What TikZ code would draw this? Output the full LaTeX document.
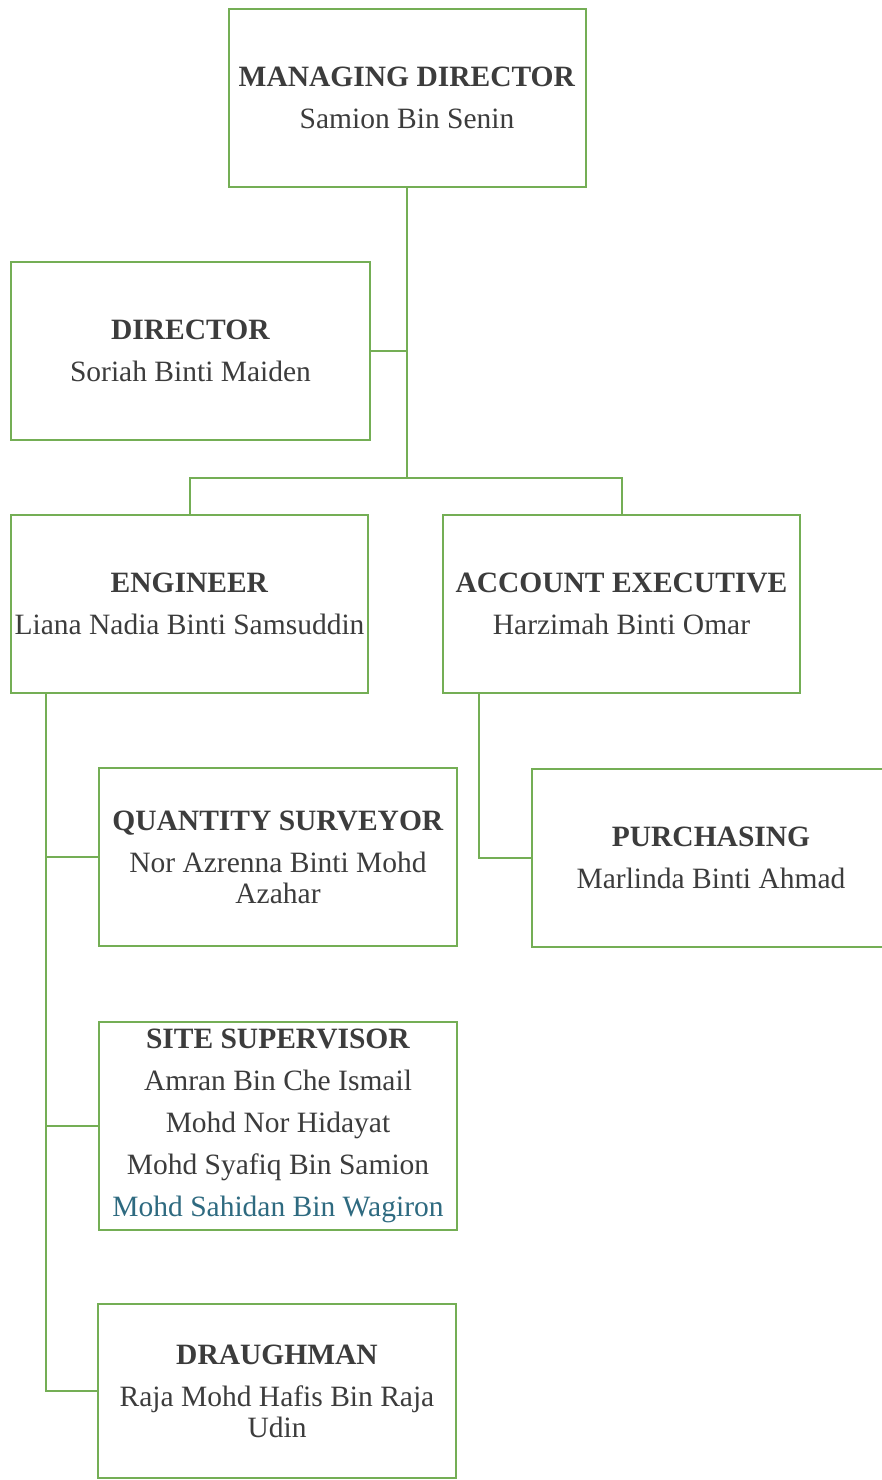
\documentclass[tikz,border=0pt]{standalone}
\usepackage{fontspec}
\setmainfont{LiberationSerif}[Extension=.ttf,UprightFont=*-Regular,BoldFont=*-Bold,ItalicFont=*-Italic,BoldItalicFont=*-BoldItalic]
\usepackage{tikz}

\definecolor{boxgreen}{HTML}{74AE55}
\definecolor{inkgray}{HTML}{3C3C3C}
\definecolor{inkteal}{HTML}{2E6A80}

\begin{document}
\begin{tikzpicture}
	[x=1pt,y=-1pt,line width=2pt,draw=boxgreen,
		role node/.style={rectangle,draw=boxgreen,line width=2pt,fill=white,align=center,inner sep=0pt,
			minimum width=357pt,minimum height=178pt,text=inkgray,
			font=\fontsize{29.5}{42}\selectfont}]

	\useasboundingbox (0,0) rectangle (881,1480);

	\node[role node] (md) at (407,98) {\textbf{MANAGING DIRECTOR}\\Samion Bin Senin};
	\node[role node,minimum width=359pt] (dir) at (190.5,351) {\textbf{DIRECTOR}\\Soriah Binti Maiden};
	\node[role node] (eng) at (189.5,603.5) {\textbf{ENGINEER}\\Liana Nadia Binti Samsuddin};
	\node[role node] (acc) at (621.5,603.5) {\textbf{ACCOUNT EXECUTIVE}\\Harzimah Binti Omar};
	\node[role node,minimum width=358pt] (qs) at (278,857) {\textbf{QUANTITY SURVEYOR}\\Nor Azrenna Binti Mohd\\[-11pt]Azahar};
	\node[role node,minimum width=358pt] (purch) at (711,857.5) {\textbf{PURCHASING}\\Marlinda Binti Ahmad};
	\node[role node,minimum width=358pt,minimum height=208pt] (site) at (278,1126) {\textbf{SITE SUPERVISOR}\\Amran Bin Che Ismail\\Mohd Nor Hidayat\\Mohd Syafiq Bin Samion\\\textcolor{inkteal}{Mohd Sahidan Bin Wagiron}};
	\node[role node,minimum width=358pt,minimum height=174pt] (draught) at (277,1391) {\textbf{DRAUGHMAN}\\Raja Mohd Hafis Bin Raja\\[-11pt]Udin};

	\coordinate (bar) at (407,478);
	\coordinate (etrunk) at (46,692);
	\coordinate (atrunk) at (479,692);

	\draw (md.south) -- (bar);
	\draw (dir.east) -- (dir.east -| md.south);
	\draw (eng.north) |- (bar) -| (acc.north);
	\draw (etrunk) |- (qs.west);
	\draw (etrunk) |- (site.west);
	\draw (etrunk) |- (draught.west);
	\draw (atrunk) |- (purch.west);
\end{tikzpicture}
\end{document}
